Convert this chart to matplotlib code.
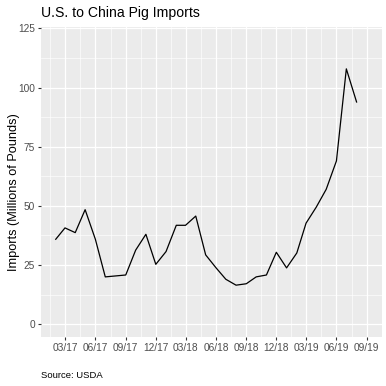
import matplotlib
matplotlib.use("Agg")
import matplotlib.pyplot as plt
import matplotlib.dates as mdates
import numpy as np
import pandas as pd

plt.rcParams['font.family'] = ['Liberation Sans', 'DejaVu Sans']

months = pd.date_range("2017-02-01", "2019-08-01", freq="MS")
imports = [35.9, 40.7, 38.7, 48.4, 35.9, 20.0, 20.4, 20.8, 31.3, 38.0,
           25.3, 30.7, 41.8, 41.8, 45.7, 29.3, 23.9, 19.0, 16.5, 17.1,
           20.0, 20.8, 30.4, 23.8, 30.1, 42.7, 49.5, 57.0, 69.0, 107.9, 93.9]
y_ticks = [0, 25, 50, 75, 100, 125]
x_tick_dates = pd.date_range("2017-03-01", "2019-09-01", freq="3MS")
x_tick_labels = [d.strftime("%m/%y") for d in x_tick_dates]

title = "U.S. to China Pig Imports"
ylabel = "Imports (Millions of Pounds)"
caption = "Source: USDA"

fig = plt.figure(figsize=(3.86, 3.86), dpi=100)
W = H = 386
left, right, top, bottom = 40.7, 382, 26.5, 337
ax = fig.add_axes([left / W, 1 - bottom / H, (right - left) / W, (bottom - top) / H])
ax.set_facecolor("#EBEBEB")

xd = mdates.date2num(months)
x0, x1 = xd[0], xd[-1]
pad = (x1 - x0) * 0.05
ax.set_xlim(x0 - pad, x1 + pad)
ax.set_ylim(-5.4, 125.8)

major = mdates.date2num(x_tick_dates)
step = major[1] - major[0]
ext = np.concatenate([[major[0] - step], major, [major[-1] + step]])
minor = (ext[:-1] + ext[1:]) / 2
ax.set_xticks(major)
ax.set_xticklabels(x_tick_labels)
ax.set_xticks(minor, minor=True)
ax.set_yticks(y_ticks)
ax.set_yticks([12.5 + 25 * i for i in range(5)], minor=True)

ax.grid(which="major", color="white", linewidth=0.9)
ax.grid(which="minor", color="white", linewidth=0.45)
ax.set_axisbelow(True)
for s in ax.spines.values():
    s.set_visible(False)
ax.tick_params(which="major", length=2.5, width=0.8, color="#333333",
               labelcolor="#4D4D4D", labelsize=7.3, pad=1.5)
ax.tick_params(which="minor", length=0)

ax.plot(xd, imports, color="black", linewidth=0.9)

fig.text(left / W, 1 - 13 / H, title, fontsize=10.1, ha="left", va="center")
fig.text(14 / W, 1 - 192 / H, ylabel, fontsize=9.2, rotation=90, ha="center", va="center")
fig.text(left / W, 1 - 375 / H, caption, fontsize=6.8, ha="left", va="center")

fig.savefig("out.png", dpi=100)
